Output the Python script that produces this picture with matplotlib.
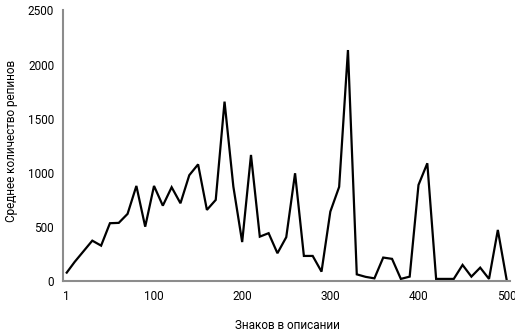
import matplotlib.pyplot as plt

# Знаков в описании (категории по 10 знаков)
chars = [1] + list(range(10, 501, 10))
avg_repins = [81, 180, 278, 376, 330, 537, 540, 623, 881, 505,
              881, 699, 869, 721, 980, 1080, 660, 752, 1659, 875,
              363, 1167, 413, 445, 260, 408, 998, 235, 235, 90,
              644, 872, 2135, 65, 42, 28, 220, 208, 23, 44,
              890, 1090, 23, 23, 23, 152, 44, 127, 23, 475,
              15]
xticks = [1, 100, 200, 300, 400, 500]
yticks = [0, 500, 1000, 1500, 2000, 2500]

plt.rcParams['font.family'] = ['Roboto', 'DejaVu Sans']

fig = plt.figure(figsize=(5.15, 3.35), dpi=100)
ax = fig.add_axes([62.5 / 515, 0.16, (510 - 62.5) / 515, 0.8087])

ax.plot(chars, avg_repins, color='black', linewidth=1.6, solid_joinstyle='miter')

ax.set_xlim(-3.8, 503.8)
ax.set_ylim(0, 2500)
ax.set_xticks(xticks)
ax.set_yticks(yticks)
ax.tick_params(length=0, labelsize=8.5, pad=6)

for side in ['top', 'right']:
    ax.spines[side].set_visible(False)
for side in ['left', 'bottom']:
    ax.spines[side].set_color('#8c8c8c')
    ax.spines[side].set_linewidth(1.5)

ax.set_xlabel('Знаков в описании', fontsize=8.5, va='center', ha='center')
ax.set_ylabel('Среднее количество репинов', fontsize=8.5, va='center', ha='center')
ax.xaxis.set_label_coords(0.502, -0.164)
ax.yaxis.set_label_coords(-0.114, 0.52)

fig.savefig('out.png', dpi=100)
